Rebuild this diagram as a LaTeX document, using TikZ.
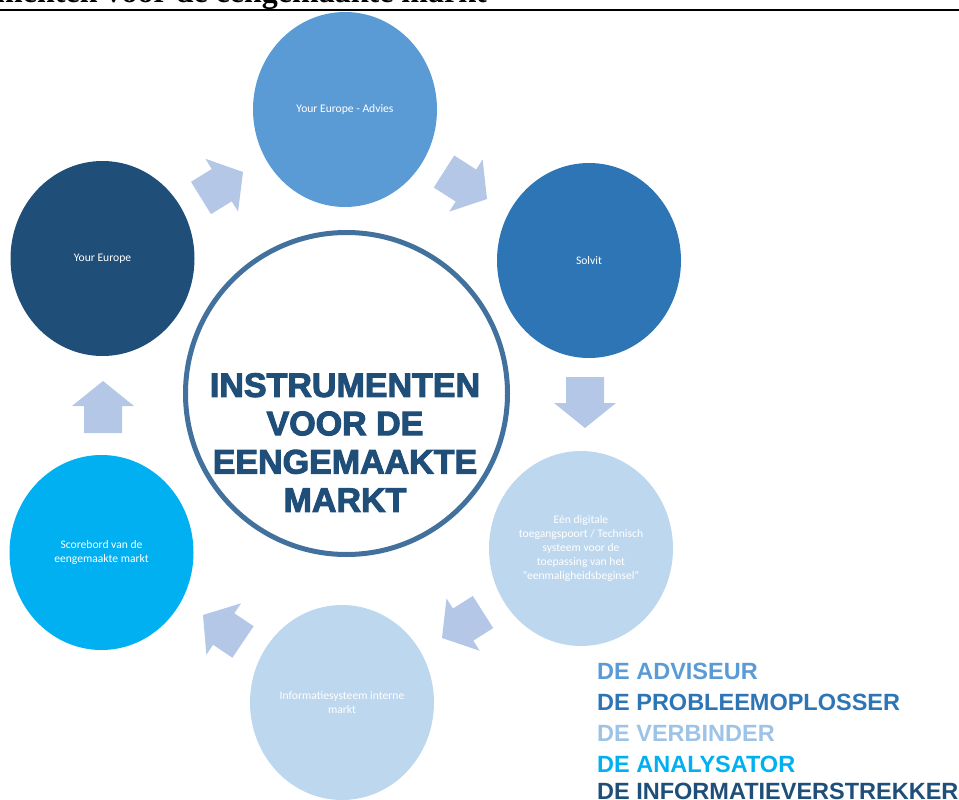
\documentclass[tikz,border=0pt]{standalone}
\usepackage{fontspec}
\setmainfont{Liberation Serif}
\newfontfamily\calfont{Carlito}
\newfontfamily\arialfont{Liberation Sans}
\newfontfamily\heavyfont[FakeBold=3]{Liberation Sans Bold}
\usetikzlibrary{shapes.geometric,calc}
\definecolor{cadvies}{HTML}{5B9BD5}
\definecolor{csolvit}{HTML}{2E75B6}
\definecolor{clight}{HTML}{BDD7EE}
\definecolor{cverb}{HTML}{9DC3E6}
\definecolor{cscore}{HTML}{00B0F0}
\definecolor{cdark}{HTML}{1F4E79}
\definecolor{carrow}{HTML}{B4C7E7}
\definecolor{cring}{HTML}{41719C}
\tikzset{
  bubble/.style={ellipse, inner sep=0, minimum width=184, minimum height=195,
    text=white, align=center, font=\calfont\fontsize{11.6}{14}\selectfont},
  legend/.style={anchor=base west, inner sep=0, font=\arialfont\bfseries\fontsize{23.5}{26}\selectfont},
  arrfill/.style={fill=carrow}
}
\newcommand{\blockarr}[2]{%
  \path ($(#2)!25pt!(#1)$) coordinate (hh);
  \fill[arrfill] ($(#1)!19pt!90:(#2)$) -- ($(hh)!19pt!90:(#2)$) -- ($(hh)!31pt!90:(#2)$) -- (#2)
    -- ($(hh)!31pt!-90:(#2)$) -- ($(hh)!19pt!-90:(#2)$) -- ($(#1)!19pt!-90:(#2)$) -- cycle;}
\begin{document}
\begin{tikzpicture}[x=1pt,y=-1pt]
\useasboundingbox (0,0) rectangle (959,800);
% title and rule
\node[anchor=base east, inner sep=0, font=\bfseries\fontsize{32}{36}\selectfont] (title) at (487,2.5) {Instrumenten voor de eengemaakte markt};
\coordinate (rl) at (0,10);
\coordinate (rr) at (959,10);
\draw[line width=2] (rl) -- (rr);
% bubbles
\node[bubble, fill=cadvies] (advies) at (345,109.5) {Your Europe - Advies};
\node[bubble, fill=csolvit] (solvit) at (589,260.5) {Solvit};
\node[bubble, fill=clight] (sdg) at (581,548.5) {Eén digitale\\toegangspoort / Technisch\\systeem voor de\\toepassing van het\\“eenmaligheidsbeginsel”};
\node[bubble, fill=clight] (imi) at (342,702.5) {Informatiesysteem interne\\markt};
\node[bubble, fill=cscore] (score) at (101.5,552.5) {Scorebord van de\\eengemaakte markt};
\node[bubble, fill=cdark] (ye) at (102.5,258.5) {Your Europe};
% central ring
\node[circle, draw=cring, line width=5, minimum size=322, inner sep=0] (center) at (346.5,393.5) {};
\node[inner sep=0, text=cdark, align=center, font=\heavyfont\fontsize{34}{38.3}\selectfont] (ctext) at (345,442.5) {INSTRUMENTEN\\VOOR DE\\EENGEMAAKTE\\MARKT};
% arrows
\coordinate (a1) at (103,433);   \coordinate (b1) at (103,381);
\coordinate (a2) at (201,198);   \coordinate (b2) at (243,172);
\coordinate (a3) at (444,171.5); \coordinate (b3) at (487,199);
\coordinate (a4) at (585,377);   \coordinate (b4) at (585,428);
\coordinate (a5) at (483,612);   \coordinate (b5) at (442,638);
\coordinate (a6) at (243,642);   \coordinate (b6) at (203,615);
\blockarr{a1}{b1}
\blockarr{a2}{b2}
\blockarr{a3}{b3}
\blockarr{a4}{b4}
\blockarr{a5}{b5}
\blockarr{a6}{b6}
% legend
\node[legend, text=cadvies] (l1) at (597,679) {DE ADVISEUR};
\node[legend, text=csolvit] (l2) at (597,710.5) {DE PROBLEEMOPLOSSER};
\node[legend, text=cverb] (l3) at (597,741.5) {DE VERBINDER};
\node[legend, text=cscore] (l4) at (597,772) {DE ANALYSATOR};
\node[legend, text=cdark] (l5) at (597,799.5) {DE INFORMATIEVERSTREKKER};
\end{tikzpicture}
\end{document}
